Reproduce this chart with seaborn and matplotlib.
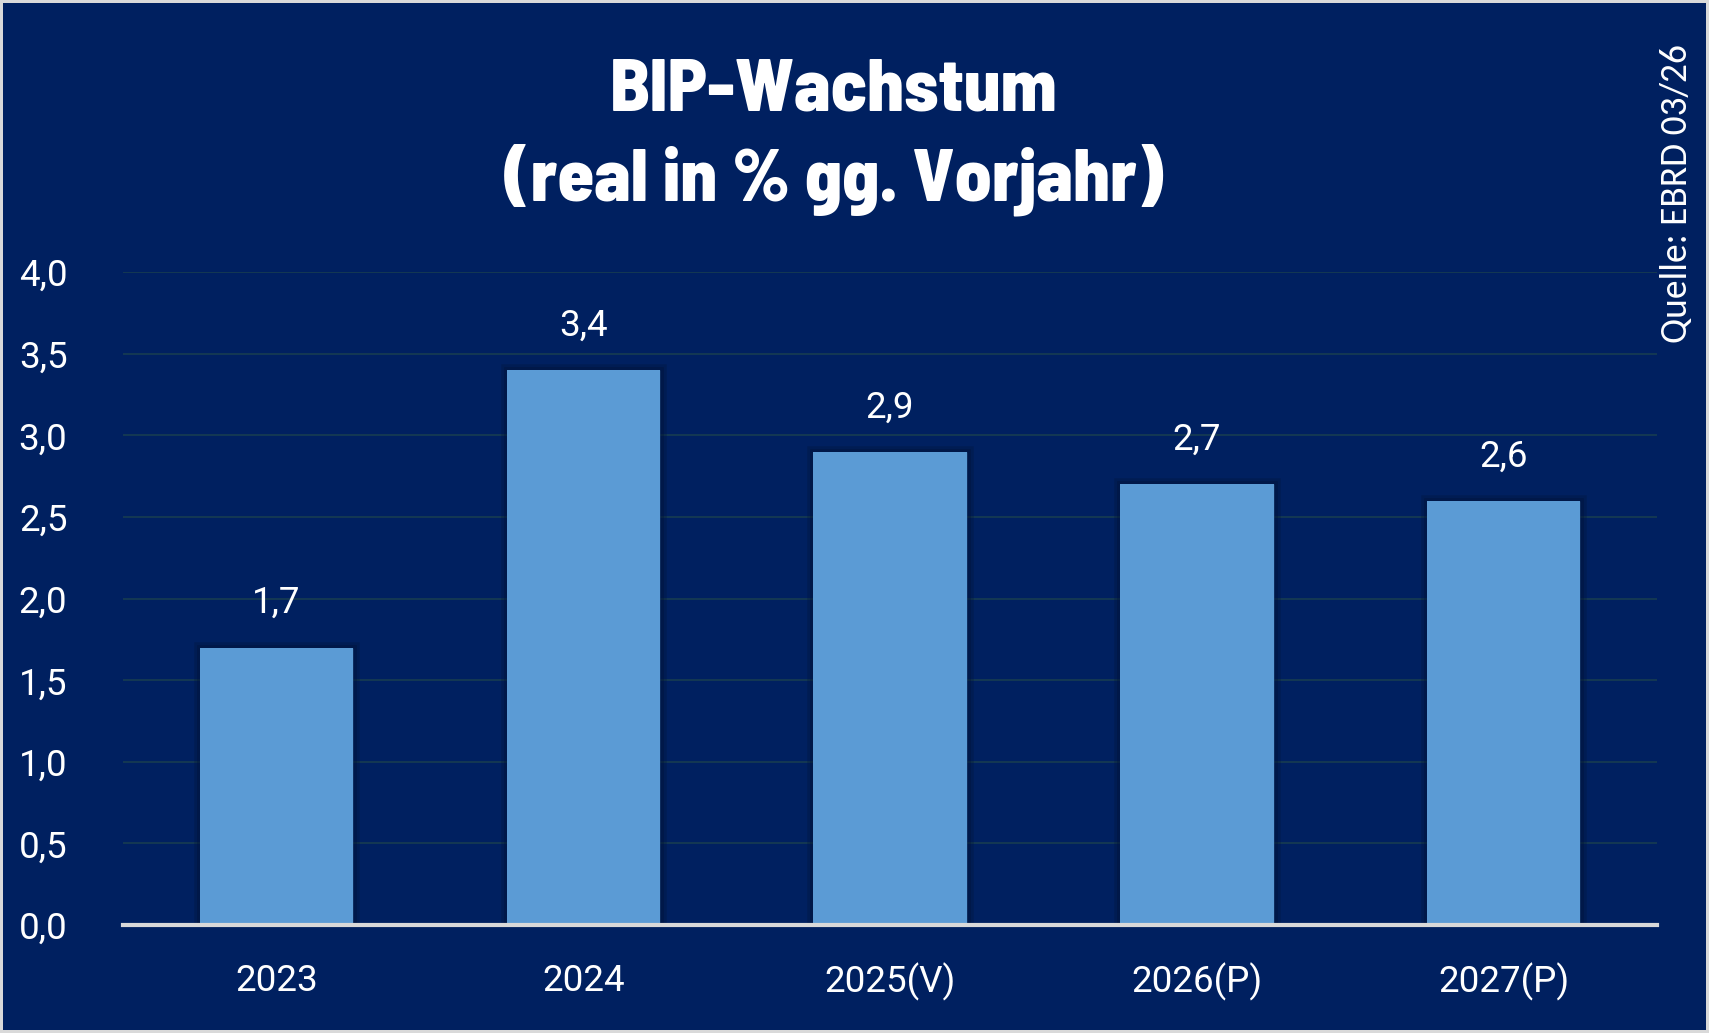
import matplotlib
matplotlib.use("Agg")
import matplotlib.pyplot as plt
import matplotlib.ticker as mticker
import matplotlib.patheffects as pe
import seaborn as sns

# ── Daten ────────────────────────────────────────────────
jahre = ["2023", "2024", "2025(V)", "2026(P)", "2027(P)"]
wachstum = [1.7, 3.4, 2.9, 2.7, 2.6]
y_ticks = [0.0, 0.5, 1.0, 1.5, 2.0, 2.5, 3.0, 3.5, 4.0]

titel = "BIP-Wachstum\n(real in % gg. Vorjahr)"
quelle = "Quelle: EBRD 03/26"

# ── Stil ─────────────────────────────────────────────────
hintergrund = "#002060"
balken = "#5B9BD5"
raster = "#163a52"
grundlinie = "#D9D9D9"

sns.set_theme(style="white")
plt.rcParams["font.family"] = ["Roboto", "DejaVu Sans"]

fig = plt.figure(figsize=(17.09, 10.33), dpi=100)
fig.patch.set_facecolor(hintergrund)
fig.patch.set_edgecolor(grundlinie)
fig.patch.set_linewidth(4)

ax = fig.add_axes([0.072, 0.1045, 0.8976, 0.632])
ax.set_facecolor(hintergrund)

sns.barplot(x=jahre, y=wachstum, color=balken, saturation=1, width=0.5,
            linewidth=0, edgecolor="none", ax=ax, zorder=3)
for patch in ax.patches:
    patch.set_path_effects([
        pe.Stroke(linewidth=9, foreground="#001338", alpha=0.3),
        pe.Stroke(linewidth=5, foreground="#001338", alpha=0.35),
        pe.Normal(),
    ])

ax.set_ylim(0, 4.0)
ax.set_xlim(-0.5, len(jahre) - 0.5)
ax.set_yticks(y_ticks)
ax.yaxis.set_major_formatter(mticker.FuncFormatter(lambda v, _: f"{v:.1f}".replace(".", ",")))
ax.grid(axis="y", color=raster, linewidth=1.3, zorder=0)
ax.set_axisbelow(True)

for side in ["top", "right", "left"]:
    ax.spines[side].set_visible(False)
ax.spines["bottom"].set_color(grundlinie)
ax.spines["bottom"].set_linewidth(3)
ax.spines["bottom"].set_zorder(5)

ax.tick_params(axis="y", length=0, pad=40, labelsize=26.5, labelcolor="white")
ax.tick_params(axis="x", length=0, pad=27, labelsize=26.5, labelcolor="white")
ax.set_xlabel("")
ax.set_ylabel("")

ax.bar_label(ax.containers[0],
             labels=[f"{v:.1f}".replace(".", ",") for v in wachstum],
             padding=19, fontsize=26.5, color="white")

fig.text(0.488, 0.943, titel, ha="center", va="top", color="white",
         fontsize=53, fontweight=800, linespacing=1.32,
         family=["Barlow Semi Condensed", "Barlow Condensed", "DejaVu Sans"])

fig.text(0.981, 0.957, quelle, rotation=90, ha="center", va="top", color="white",
         fontsize=27, family=["Carlito", "DejaVu Sans"])

plt.savefig("out.png", dpi=100, facecolor=fig.get_facecolor(), edgecolor=fig.get_edgecolor())
